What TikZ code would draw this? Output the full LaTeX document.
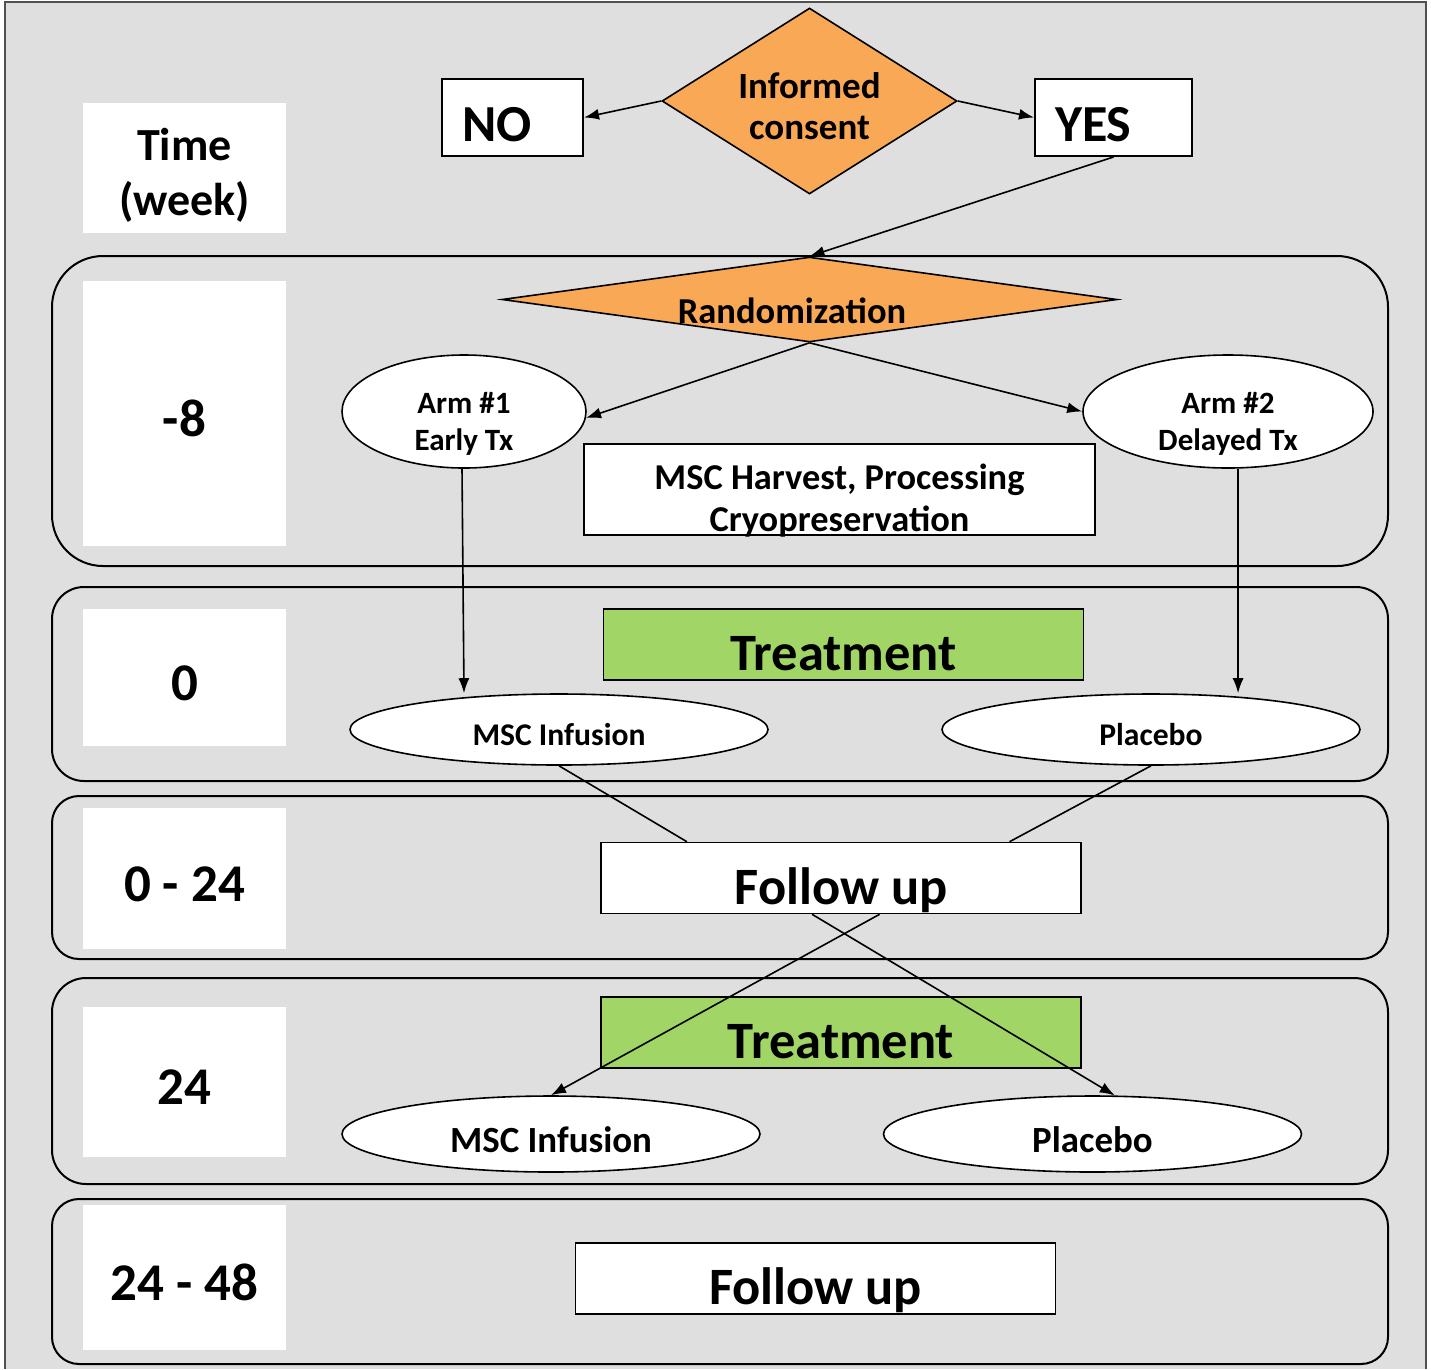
\documentclass[tikz,border=0pt]{standalone}
\usepackage{fontspec}
\setmainfont{Carlito}
\usetikzlibrary{arrows.meta,calc,shapes.geometric}
\definecolor{TLBack}{HTML}{DFDFDF}
\definecolor{TLFrame}{HTML}{505050}
\definecolor{TLOrange}{HTML}{F9A856}
\definecolor{TLGreen}{HTML}{A1D566}
\tikzset{
  flow/.style={-{Latex[length=15pt,width=11pt]},black,line width=1.6pt},
  link/.style={black,line width=1.6pt},
  band/.style={draw=black,line width=2pt,fill=TLBack,minimum width=1336pt,inner sep=0pt},
  timehead/.style={fill=white,minimum width=203pt,inner sep=0pt,align=center,
                   font=\fontsize{46}{55}\selectfont\bfseries},
  timebox/.style={fill=white,minimum width=203pt,inner sep=0pt,
                  text height=45pt,text depth=0pt,font=\fontsize{53}{64}\selectfont\bfseries},
  answer/.style={draw=black,line width=2pt,fill=white,minimum height=77pt,inner xsep=20pt,
                 inner ysep=0pt,align=left,text height=48pt,text depth=0pt,
                 font=\fontsize{52}{62}\selectfont\bfseries},
  decision/.style={diamond,draw=black,line width=1.6pt,fill=TLOrange,inner sep=0pt,align=center},
  arm/.style={ellipse,draw=black,line width=1.6pt,fill=white,inner xsep=0pt,inner ysep=-5pt,
              minimum height=113pt,align=center,font=\fontsize{31}{37}\selectfont\bfseries},
  dose/.style={ellipse,draw=black,line width=1.6pt,fill=white,inner sep=0pt,
               minimum width=418pt,text depth=0pt},
  stage/.style={draw=black,line width=1.6pt,minimum width=480pt,minimum height=71pt,inner sep=0pt,
                text height=52pt,text depth=0pt,font=\fontsize{52.5}{63}\selectfont\bfseries},
  treat/.style={stage,fill=TLGreen},
  follow/.style={stage,fill=white},
}

\begin{document}
\begin{tikzpicture}[x=1pt,y=-1pt]
  \useasboundingbox (0,0) rectangle (1431,1369);
  \fill[TLBack] (5,2) rectangle (1426,1369);
  \draw[TLFrame,line width=1.5pt] (5,1369) -- (5,2) -- (1426,2) -- (1426,1369);

  \node[band,minimum height=310pt,rounded corners=51pt] (band8) at (720,411) {};
  \node[band,minimum height=194pt,rounded corners=32pt] (band0) at (720,684) {};
  \node[band,minimum height=163pt,rounded corners=27pt] (band24a) at (720,877.5) {};
  \node[band,minimum height=206pt,rounded corners=34pt] (band24) at (720,1081) {};
  \node[band,minimum height=165pt,rounded corners=27pt] (band48) at (720,1281.5) {};

  \node[timehead,minimum height=130pt] (thead) at (184.5,168) {\rule{0pt}{46pt}Time\\(week)};
  \node[timebox,minimum height=265pt] (t8) at (184.5,413.5) {-8};
  \node[timebox,minimum height=137pt] (t0) at (184.5,677.5) {0};
  \node[timebox,minimum height=141pt] (t024) at (184.5,878.5) {0 - 24};
  \node[timebox,minimum height=150pt] (t24) at (184.5,1082) {24};
  \node[timebox,minimum height=145pt] (t2448) at (184.5,1277.5) {24 - 48};

  \node[decision,aspect=1.59,minimum width=295pt,minimum height=186pt,
        font=\fontsize{37}{41}\selectfont\bfseries] (consent) at (809.5,101)
    {\rule{0pt}{37pt}Informed\\consent};
  \node[answer,text width=101pt] (no) at (512.5,117.5) {NO};
  \node[answer,text width=117pt] (yes) at (1113.5,117.5) {YES};

  \node[decision,aspect=7.2,minimum width=615pt,minimum height=85pt,text height=47pt,text depth=0pt,
        font=\fontsize{36.5}{44}\selectfont\bfseries] (rand) at (809.5,299.5)
    {Randomization\hspace*{35pt}};
  \node[arm,minimum width=244pt] (arm1) at (464,411.5) {\rule{0pt}{46pt}Arm \#1\\Early Tx};
  \node[arm,minimum width=290pt] (arm2) at (1228,411.5) {\rule{0pt}{46pt}Arm \#2\\Delayed Tx};
  \node[draw=black,line width=1.6pt,fill=white,minimum width=511pt,minimum height=91pt,
        inner xsep=0pt,inner ysep=-4pt,align=center,font=\fontsize{36.4}{42}\selectfont\bfseries]
    (harvest) at (839.5,489.5) {\rule{0pt}{47pt}MSC Harvest, Processing\\Cryopreservation};

  \node[treat] (treat1) at (843.5,644.5) {Treatment};
  \node[dose,minimum height=71pt,text height=31pt,font=\fontsize{31.6}{38}\selectfont\bfseries]
    (inf1) at (559,729.5) {MSC Infusion};
  \node[dose,minimum height=71pt,text height=31pt,font=\fontsize{31.6}{38}\selectfont\bfseries]
    (plac1) at (1151,729.5) {Placebo};

  \node[follow] (fu1) at (841,878) {Follow up};

  \node[treat] (treat2) at (841,1032.5) {Treatment};
  \node[dose,minimum height=76pt,text height=37pt,font=\fontsize{36.9}{44}\selectfont\bfseries]
    (inf2) at (551,1134) {MSC Infusion};
  \node[dose,minimum height=76pt,text height=37pt,font=\fontsize{36.9}{44}\selectfont\bfseries]
    (plac2) at (1092.5,1134) {Placebo};

  \node[follow] (fu2) at (815.5,1278.5) {Follow up};

  \draw[flow] (consent.west) -- (no.east);
  \draw[flow] (consent.east) -- (yes.west);
  \draw[flow] (yes.south) -- (rand.north);
  \draw[flow] (rand.south) -- (arm1.-3);
  \draw[flow] (rand.south) -- (arm2.west);
  \draw[flow] (arm1.-92) -- (arm1.south |- inf1.north);
  \draw[flow] (arm2.-80) -- (arm2.-80 |- plac1.north);
  \draw[link] (inf1.south) -- ($(fu1.north west)!0.18!(fu1.north east)$);
  \draw[link] (plac1.south) -- ($(fu1.north west)!0.85!(fu1.north east)$);
  \draw[flow] ($(fu1.south west)!0.58!(fu1.south east)$) -- (inf2.north);
  \draw[flow] ($(fu1.south west)!0.44!(fu1.south east)$) -- (plac2.60);
\end{tikzpicture}
\end{document}
